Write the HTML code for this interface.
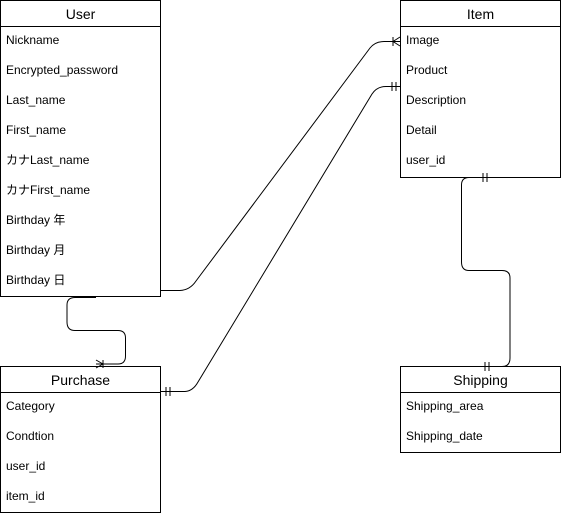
<!DOCTYPE html>
<html><head><meta charset="utf-8"><style>
html,body{margin:0;padding:0;background:#fff;}
svg text{font-family:"Liberation Sans","Noto Sans CJK JP",sans-serif;fill:#000;}
.t{font-size:14px;text-anchor:middle}
.r{font-size:12px}
</style></head><body>
<svg width="561" height="516" viewBox="0 0 561 516" xmlns="http://www.w3.org/2000/svg">
<g fill="none" stroke="#000" stroke-width="1">
<!-- User -->
<rect x="0.5" y="0.5" width="160" height="296"/>
<line x1="0.5" y1="26.5" x2="160.5" y2="26.5"/>
<!-- Item -->
<rect x="400.5" y="0.5" width="160" height="177"/>
<line x1="400.5" y1="26.5" x2="560.5" y2="26.5"/>
<!-- Purchase -->
<rect x="0.5" y="366.5" width="160" height="146"/>
<line x1="0.5" y1="392.5" x2="160.5" y2="392.5"/>
<!-- Shipping -->
<rect x="400.5" y="366.5" width="160" height="86"/>
<line x1="400.5" y1="392.5" x2="560.5" y2="392.5"/>

<!-- User -> Item -->
<path d="M160.5 290.5 H180 Q190 290 196 281 L370 48 Q375 41.5 384 41.5 H400"/>
<path d="M393 41.5 L400 37 M393 41.5 L400 46 M393 37 V46"/>
<!-- Purchase -> Item -->
<path d="M160.5 391.5 H185 Q193 391 198 382 L372 94 Q377 86.5 386 86.5 H400"/>
<path d="M166 387 V396 M170 387 V396 M392 82 V91 M396 82 V91"/>
<!-- User -> Purchase -->
<path d="M96 297.5 H75 Q67 297.5 67 305 V322 Q67 330.5 75 330.5 H118 Q125.5 330.5 125.5 338 V356 Q125.5 364 118 364 H96"/>
<path d="M103 364 L96 360 M103 364 L96 368 M103 360 V368"/>
<!-- Item -> Shipping -->
<path d="M490 177.5 H469 Q461.5 177.5 461.5 185 V262 Q461.5 270.5 469 270.5 H502 Q510 270.5 510 278 V358 Q510 366.5 502 366.5 H480"/>
<path d="M483 173 V182 M487 173 V182 M485 362 V371 M489 362 V371"/>
</g>
<text class="t" x="80.5" y="19">User</text>
<text class="t" x="480.5" y="19">Item</text>
<text class="t" x="80.5" y="385">Purchase</text>
<text class="t" x="480.5" y="385">Shipping</text>
<g class="r">
<text x="6" y="44">Nickname</text>
<text x="6" y="74">Encrypted_password</text>
<text x="6" y="104">Last_name</text>
<text x="6" y="134">First_name</text>
<text x="6" y="164">カナLast_name</text>
<text x="6" y="194">カナFirst_name</text>
<text x="6" y="224">Birthday 年</text>
<text x="6" y="254">Birthday 月</text>
<text x="6" y="284">Birthday 日</text>
<text x="406" y="44">Image</text>
<text x="406" y="74">Product</text>
<text x="406" y="104">Description</text>
<text x="406" y="134">Detail</text>
<text x="406" y="164">user_id</text>
<text x="6" y="410">Category</text>
<text x="6" y="440">Condtion</text>
<text x="6" y="470">user_id</text>
<text x="6" y="500">item_id</text>
<text x="406" y="410">Shipping_area</text>
<text x="406" y="440">Shipping_date</text>
</g>
</svg>
</body></html>
